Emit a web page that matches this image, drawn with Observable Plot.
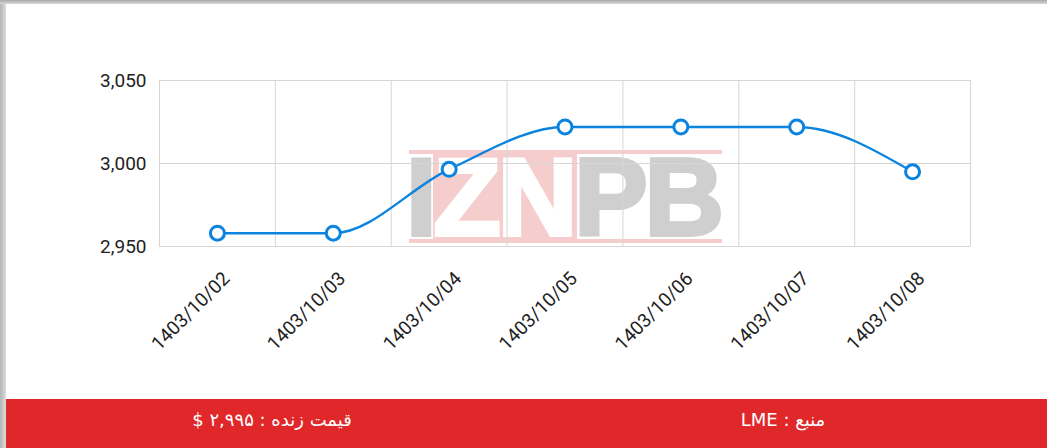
<!DOCTYPE html>
<html><head><meta charset="utf-8">
<script src="https://cdn.jsdelivr.net/npm/d3@7"></script>
<script src="https://cdn.jsdelivr.net/npm/@observablehq/plot@0.6"></script>
<style>
html,body{margin:0;padding:0;background:#fff;}
#wrap{position:relative;width:1047px;height:448px;overflow:hidden;background:#fff;font-family:Roboto,"Noto Sans",sans-serif;}
#lstrip{position:absolute;left:0;top:0;width:6px;height:448px;background:linear-gradient(90deg,#b5b5b5,#dcdcdc);}
#tstrip{position:absolute;left:0;top:0;width:1047px;height:4px;background:linear-gradient(180deg,#a8a8a8,#d8d8d8);}
.wmbar{position:absolute;left:409px;width:313px;height:4px;background:#f6cdcd;}
#wmblock{position:absolute;left:433px;top:150px;width:144px;height:93px;background:#f6cdcd;}
#wl{position:absolute;left:406px;top:157px;white-space:nowrap;letter-spacing:-3px;font-family:"Liberation Sans",Arial,sans-serif;font-weight:700;font-size:110px;line-height:80px;color:#cfcfcf;-webkit-text-stroke:4px #cfcfcf;}
#wl .w{color:#fff;-webkit-text-stroke:4px #fff;}
#chart{position:absolute;left:0;top:0;}
#foot{position:absolute;left:6px;top:399px;width:1041px;height:49px;background:#e0282a;color:#fff;font-family:"DejaVu Sans","Noto Sans",sans-serif;font-size:18px;}
#foot div{position:absolute;top:0;height:42px;line-height:42px;text-align:center;white-space:nowrap;}
</style></head>
<body><div id="wrap">
<div class="wmbar" style="top:150px"></div><div class="wmbar" style="top:239px"></div>
<div id="wmblock"></div>
<div id="wl">I<span class="w">ZN</span>PB</div>
<div id="chart"></div>
<div id="lstrip"></div><div id="tstrip"></div>
<div id="foot"><div id="f1" dir="rtl" style="left:146px;width:240px;"></div><div id="f2" dir="rtl" style="left:657px;width:240px;"></div></div>
</div>
<script>
const dates = ["1403/10/02","1403/10/03","1403/10/04","1403/10/05","1403/10/06","1403/10/07","1403/10/08"];
const prices = [2958, 2958, 2996.5, 3022, 3022, 3022, 2995];
const yTicks = [2950, 3000, 3050];
const footerLive = "قیمت زنده : ۲,۹۹۵ $";
const footerSource = "منبع : LME";

document.getElementById("f1").textContent = footerLive;
document.getElementById("f2").textContent = footerSource;

const data = dates.map((d, i) => ({i: i + 0.5, date: d, price: prices[i]}));
const edges = d3.range(0, dates.length + 1);
const blue = "#0b84e0";

const chart = Plot.plot({
  width: 1047,
  height: 399,
  marginLeft: 159,
  marginRight: 77,
  marginTop: 80,
  marginBottom: 153,
  style: {background: "transparent", fontFamily: "Roboto, sans-serif", fontSize: "19px", color: "#222"},
  x: {domain: [0, dates.length]},
  y: {domain: [2950, 3050]},
  marks: [
    Plot.ruleX(edges, {stroke: "#d6d6d6", strokeWidth: 1, strokeOpacity: 1}),
    Plot.ruleY(yTicks, {stroke: "#d6d6d6", strokeWidth: 1, strokeOpacity: 1}),
    Plot.axisY({ticks: yTicks, tickSize: 0, tickPadding: 13, tickFormat: d3.format(","), fontSize: 19, label: null}),
    Plot.axisX({ticks: data.map(d => d.i), tickSize: 0, tickPadding: 8, tickRotate: -45, dx: 9, dy: 21,
      tickFormat: v => dates[Math.round(v - 0.5)], fontSize: 19, label: null}),
    Plot.line(data, {x: "i", y: "price", curve: "monotone-x", stroke: blue, strokeWidth: 2.4}),
    Plot.dot(data, {x: "i", y: "price", r: 7, stroke: blue, strokeWidth: 3, fill: "#fff"})
  ]
});
document.getElementById("chart").appendChild(chart);
</script>
</body></html>
